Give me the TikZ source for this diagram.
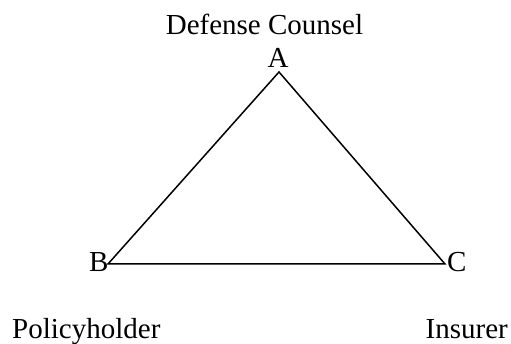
\documentclass[tikz,border=0pt]{standalone}
\usepackage{fontspec}
\setmainfont{Liberation Serif}
\begin{document}
\begin{tikzpicture}[x=1pt,y=-1pt,
  lbl/.style={inner sep=0pt,font=\fontsize{29}{34}\selectfont},
  edge/.style={line width=1.5pt,line join=miter}]
\useasboundingbox (0,0) rectangle (511,344);
\coordinate (vA) at (279,72);
\coordinate (vB) at (108,264);
\coordinate (vC) at (445,264);
\node[lbl,anchor=base] (dc) at (264.5,35) {Defense Counsel};
\node[lbl,anchor=base] (A) at (278,68) {A};
\node[lbl,anchor=base west] (B) at (89,272) {B};
\node[lbl,anchor=base west] (C) at (447,272) {C};
\node[lbl,anchor=base west] (ph) at (12,338) {Policyholder};
\node[lbl,anchor=base east] (ins) at (508,338) {Insurer};
\draw[edge] (vA) -- (vB) -- (vC) -- cycle;
\end{tikzpicture}
\end{document}
